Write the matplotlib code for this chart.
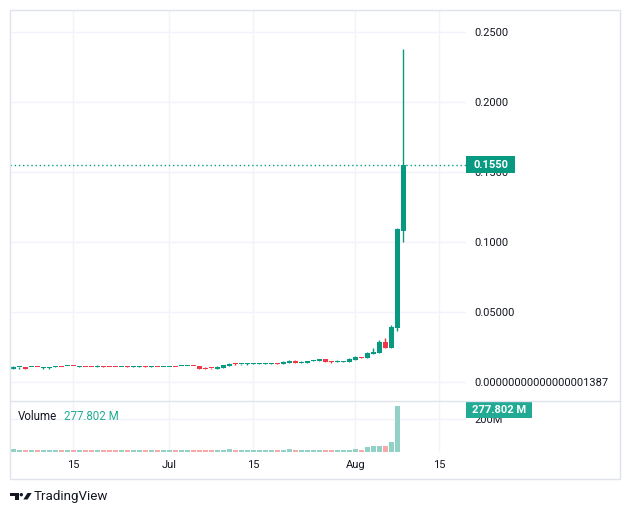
import numpy as np
import pandas as pd
import matplotlib
matplotlib.use("Agg")
import matplotlib.pyplot as plt
import matplotlib.dates as mdates
import matplotlib.transforms as mtransforms
from matplotlib.patches import Rectangle, Polygon, Ellipse
from matplotlib.lines import Line2D

plt.rcParams['font.family'] = ['Roboto', 'DejaVu Sans']

# ---------------- data ----------------
start_date = "2024-06-05"
opens = [0.00950, 0.01030, 0.01080, 0.01035, 0.01042, 0.00955, 0.00955, 0.01050, 0.01042, 0.01118,
         0.01128, 0.01050, 0.01042, 0.01042, 0.01035, 0.01042, 0.01042, 0.01042, 0.01035, 0.01042,
         0.01035, 0.01035, 0.01042, 0.01035, 0.01042, 0.01035, 0.01035, 0.01042, 0.01118, 0.01118,
         0.01128, 0.01150, 0.01020, 0.00975, 0.00920, 0.00990, 0.01150, 0.01290, 0.01240, 0.01240,
         0.01255, 0.01300, 0.01300, 0.01300, 0.01335, 0.01300, 0.01370, 0.01485, 0.01370, 0.01370,
         0.01515, 0.01515, 0.01625, 0.01480, 0.01445, 0.01445, 0.01440, 0.01580, 0.01770, 0.01725,
         0.02010, 0.02080, 0.02840, 0.02415, 0.03840, 0.10800]
highs = [0.01150, 0.01045, 0.01090, 0.01045, 0.01050, 0.01060, 0.01060, 0.01130, 0.01050, 0.01140,
         0.01135, 0.01150, 0.01050, 0.01050, 0.01220, 0.01130, 0.01050, 0.01050, 0.01050, 0.01120,
         0.01120, 0.01120, 0.01120, 0.01120, 0.01050, 0.01050, 0.01050, 0.01050, 0.01140, 0.01140,
         0.01135, 0.01155, 0.01060, 0.00980, 0.01130, 0.01200, 0.01370, 0.01365, 0.01275, 0.01340,
         0.01340, 0.01345, 0.01345, 0.01345, 0.01345, 0.01485, 0.01555, 0.01555, 0.01485, 0.01490,
         0.01560, 0.01630, 0.01630, 0.01490, 0.01555, 0.01490, 0.01700, 0.01840, 0.01775, 0.02130,
         0.02415, 0.02985, 0.03130, 0.04060, 0.11000, 0.23770]
lows = [0.00940, 0.00940, 0.00940, 0.01030, 0.01030, 0.00945, 0.00945, 0.01045, 0.01030, 0.01110,
        0.01110, 0.01045, 0.01030, 0.01030, 0.01030, 0.01030, 0.01030, 0.01030, 0.01030, 0.01030,
        0.01030, 0.01030, 0.01030, 0.01030, 0.01030, 0.01030, 0.01030, 0.01030, 0.01110, 0.01110,
        0.01110, 0.00935, 0.00940, 0.00945, 0.00915, 0.00985, 0.01145, 0.01225, 0.01225, 0.01225,
        0.01250, 0.01295, 0.01295, 0.01295, 0.01295, 0.01295, 0.01365, 0.01365, 0.01365, 0.01365,
        0.01510, 0.01510, 0.01435, 0.01365, 0.01440, 0.01440, 0.01435, 0.01575, 0.01720, 0.01720,
        0.02005, 0.02075, 0.02410, 0.02410, 0.03630, 0.09970]
closes = [0.01080, 0.01040, 0.00950, 0.01042, 0.01035, 0.00965, 0.00965, 0.01062, 0.01035, 0.01128,
          0.01118, 0.01062, 0.01035, 0.01035, 0.01042, 0.01035, 0.01035, 0.01035, 0.01042, 0.01035,
          0.01042, 0.01042, 0.01035, 0.01042, 0.01035, 0.01042, 0.01042, 0.01035, 0.01128, 0.01128,
          0.01118, 0.00940, 0.00950, 0.00960, 0.01055, 0.01198, 0.01295, 0.01240, 0.01265, 0.01265,
          0.01290, 0.01335, 0.01335, 0.01335, 0.01300, 0.01410, 0.01485, 0.01370, 0.01435, 0.01485,
          0.01555, 0.01625, 0.01440, 0.01445, 0.01480, 0.01480, 0.01625, 0.01770, 0.01730, 0.02055,
          0.02150, 0.02820, 0.02415, 0.03915, 0.10880, 0.15500]
volumes_m = [18, 12, 12, 12, 12, 12, 12, 12, 12, 12,
             12, 12, 12, 12, 12, 12, 12, 12, 12, 12,
             12, 12, 12, 12, 12, 12, 12, 12, 12, 12,
             12, 12, 12, 12, 12, 12, 18, 12, 12, 12,
             12, 12, 12, 12, 12, 12, 18, 12, 12, 12,
             12, 12, 12, 12, 12, 12, 12, 18.5, 12, 31,
             37, 37, 37, 62, 277.802]
price_ticks = [0.0, 0.05, 0.10, 0.15, 0.20, 0.25]
price_tick_labels = ["0." + "0" * 16 + "1387", "0.05000", "0.1000", "0.1500", "0.2000", "0.2500"]
vol_ticks = [200]
vol_tick_labels = ["200M"]
time_ticks = ["2024-06-15", "2024-07-01", "2024-07-15", "2024-08-01", "2024-08-15"]
time_tick_labels = ["15", "Jul", "15", "Aug", "15"]
last_price_label = "0.1550"
volume_value_label = "277.802 M"

# ---------------- styling ----------------
UP = '#089981'
DOWN = '#f23645'
UP_V = '#92d2c6'
DOWN_V = '#f7a9a7'
GRID = '#f0f3fa'
BORDER = '#e0e3eb'
TXT = '#131722'
FS = 8.0

W, H = 630, 515
fig = plt.figure(figsize=(W / 100, H / 100), dpi=100)
fig.patch.set_facecolor('white')


def rect(l, t, r, b):
    return [l / W, 1 - b / H, (r - l) / W, (b - t) / H]


def fp(x, y):
    return (x / W, 1 - y / H)


ax = fig.add_axes(rect(10, 10, 466, 401))
axv = fig.add_axes(rect(10, 401, 466, 452), sharex=ax)

dates = pd.date_range(start_date, periods=len(opens))
x = mdates.date2num(dates.to_pydatetime())
o = np.array(opens); h = np.array(highs); l = np.array(lows); c = np.array(closes)
up = c >= o
colors = np.where(up, UP, DOWN)

# price pane
ax.set_ylim(-0.01371, 0.26557)
one_px = (0.26557 + 0.01371) / 391.0
body_bottom = np.minimum(o, c)
body_h = np.maximum(np.abs(c - o), one_px)
ax.vlines(x, l, h, colors=colors, linewidth=1, zorder=3)
ax.bar(x, body_h, bottom=body_bottom, width=0.75, color=colors, linewidth=0, zorder=4)

ax.axhline(c[-1], color=UP, linewidth=1, linestyle=(0, (1, 2)), zorder=5)

for a in (ax, axv):
    for s in a.spines.values():
        s.set_visible(False)
    a.set_facecolor('white')

ax.yaxis.tick_right()
ax.set_yticks(price_ticks)
ax.set_yticklabels(price_tick_labels)
ax.tick_params(axis='y', length=0, pad=6, labelsize=FS, labelcolor=TXT)
ax.tick_params(axis='x', length=0, labelbottom=False)
ax.grid(True, color=GRID, linewidth=1, zorder=0)
ax.set_axisbelow(True)

tt = mdates.date2num(pd.to_datetime(time_ticks).to_pydatetime())
ax.set_xticks(tt)
ax.set_xlim(x[0] - 0.55, x[0] + 75.45)

# last price label box
blend = mtransforms.blended_transform_factory(ax.transAxes, ax.transData)
bw = 48.5 / 456.0
bh = 16.7 * one_px
ax.add_patch(Rectangle((1.0, c[-1] - bh / 2), bw, bh, transform=blend, facecolor=UP,
                       edgecolor='none', clip_on=False, zorder=20))
ax.text(1.0 + 8.0 / 456.0, c[-1], last_price_label, transform=blend, ha='left', va='center',
        color='white', fontsize=FS, fontweight='bold', zorder=21, clip_on=False)

# volume pane
n_v = len(volumes_m)
axv.bar(x[:n_v], volumes_m, width=0.78, color=np.where(up[:n_v], UP_V, DOWN_V), linewidth=0, zorder=3)
axv.set_ylim(0, 51 * 6.1)
axv.yaxis.tick_right()
axv.set_yticks(vol_ticks)
axv.set_yticklabels(vol_tick_labels)
axv.tick_params(axis='y', length=0, pad=6, labelsize=FS, labelcolor=TXT)
axv.set_xticks(tt)
axv.set_xticklabels(time_tick_labels)
axv.tick_params(axis='x', length=0, pad=6, labelsize=FS, labelcolor=TXT)
axv.grid(True, color=GRID, linewidth=1, zorder=0)
axv.set_axisbelow(True)

vb = mtransforms.blended_transform_factory(axv.transAxes, axv.transAxes)
vbw = 66.0 / 456.0
axv.add_patch(Rectangle((1.0, (452 - 417.7) / 51.0), vbw, 15.4 / 51.0, transform=vb,
                        facecolor='#22ab94', edgecolor='none', clip_on=False, zorder=20))
axv.text(1.0 + 33.0 / 456.0, (452 - 410) / 51.0, volume_value_label, transform=vb, ha='center',
         va='center', color='white', fontsize=FS, fontweight='bold', zorder=21, clip_on=False)

fig.text(*fp(18, 416), "Volume", ha='left', va='center', color=TXT, fontsize=8.3)
fig.text(*fp(64, 416), volume_value_label, ha='left', va='center', color='#22ab94', fontsize=8.3)

# frame & separator
fig.add_artist(Rectangle(fp(10, 479), 610 / W, 469 / H, transform=fig.transFigure,
                         facecolor='none', edgecolor=BORDER, linewidth=1))
fig.add_artist(Line2D([10 / W, 620 / W], [1 - 401 / H, 1 - 401 / H], transform=fig.transFigure,
                      color=BORDER, linewidth=1))

# TradingView logo
logo = '#131722'
fig.add_artist(Polygon([fp(10, 493), fp(18.5, 493), fp(18.5, 499.5), fp(15, 499.5), fp(15, 496.3),
                        fp(10, 496.3)], closed=True, transform=fig.transFigure, facecolor=logo,
                       edgecolor='none'))
fig.add_artist(Ellipse(fp(21.3, 494.7), 3.4 / W, 3.4 / H, transform=fig.transFigure,
                       facecolor=logo, edgecolor='none'))
fig.add_artist(Polygon([fp(27.5, 493), fp(31.7, 493), fp(27.5, 499.5), fp(23.3, 499.5)],
                       closed=True, transform=fig.transFigure, facecolor=logo, edgecolor='none'))
fig.text(*fp(33.5, 496.5), "TradingView", ha='left', va='center', color=TXT, fontsize=9.6)

fig.savefig("out.png", dpi=100)
